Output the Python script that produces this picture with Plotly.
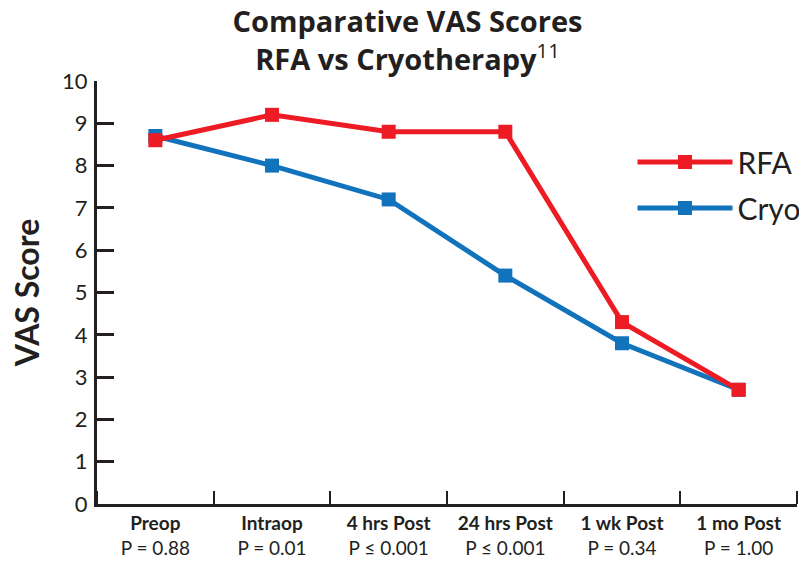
import plotly.graph_objects as go

categories = ["Preop", "Intraop", "4 hrs Post", "24 hrs Post", "1 wk Post", "1 mo Post"]
p_values = ["P = 0.88", "P = 0.01", "P ≤ 0.001", "P ≤ 0.001", "P = 0.34", "P = 1.00"]
rfa = [8.6, 9.2, 8.8, 8.8, 4.3, 2.7]
cryo = [8.7, 8.0, 7.2, 5.4, 3.8, 2.7]
y_ticks = list(range(0, 11))

RED = "#ED1C24"
BLUE = "#1273BD"
INK = "#231F20"
FONT = "Lato"

x = list(range(len(categories)))
ticktext = [f"<b>{c}</b><br>{p}" for c, p in zip(categories, p_values)]

fig = go.Figure()
fig.add_trace(go.Scatter(
    x=x, y=cryo, name="Cryo", mode="lines+markers",
    line=dict(color=BLUE, width=5),
    marker=dict(symbol="square", size=14, color=BLUE),
    legendgroup="c", legendrank=2,
))
fig.add_trace(go.Scatter(
    x=x, y=rfa, name="RFA", mode="lines+markers",
    line=dict(color=RED, width=5),
    marker=dict(symbol="square", size=14, color=RED),
    legendgroup="r", legendrank=1,
))

fig.update_layout(
    template="none",
    width=799, height=566,
    margin=dict(l=97, r=2, t=81, b=62, autoexpand=False),
    paper_bgcolor="white", plot_bgcolor="white",
    font=dict(family=FONT, color=INK),
    title=dict(
        text="<b>Comparative VAS Scores<br>RFA vs Cryotherapy</b><sup>11</sup>",
        x=0.51, xanchor="center", xref="container",
        yref="container", y=0.943, yanchor="top",
        font=dict(family="Open Sans", size=29, color=INK),
        automargin=False,
    ),
    showlegend=True,
    legend=dict(
        x=0.765, y=0.87, xanchor="left", yanchor="top",
        font=dict(family=FONT, size=30, color=INK),
        bgcolor="rgba(0,0,0,0)", tracegroupgap=4,
        itemwidth=95,
    ),
    xaxis=dict(
        range=[-0.5, 5.5], tickmode="array", tickvals=x, ticktext=ticktext,
        ticks="", showgrid=False, zeroline=False, automargin=False,
        showline=True, linecolor=INK, linewidth=3,
        tickfont=dict(family=FONT, size=19, color=INK),
        minor=dict(tick0=0.5, dtick=1, ticks="inside", ticklen=13,
                   tickwidth=2, tickcolor=INK, showgrid=False),
    ),
    yaxis=dict(
        range=[0, 10], tickmode="array", tickvals=y_ticks,
        ticks="inside", ticklen=17, tickwidth=2.5, tickcolor=INK,
        showgrid=False, zeroline=False, automargin=False,
        showline=True, linecolor=INK, linewidth=3,
        tickfont=dict(family=FONT, size=22, color=INK),
        ticklabelstandoff=2,
        title=dict(text="<b>VAS Score</b>", font=dict(family=FONT, size=32, color=INK), standoff=13),
    ),
)

fig.write_html("out.html", config={"displayModeBar": False},
               post_script="document.body.style.margin='0';")
